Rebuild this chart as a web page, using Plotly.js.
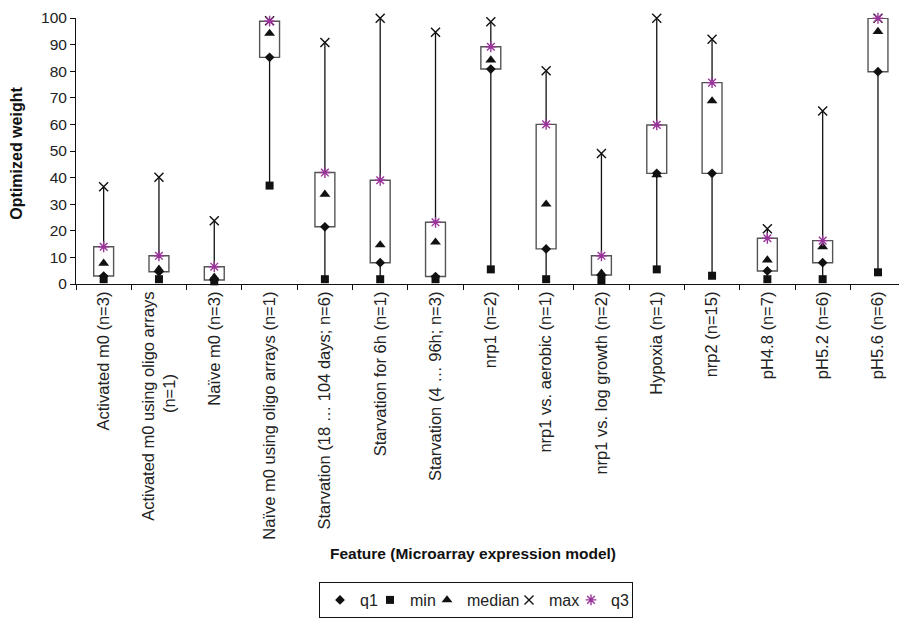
<!DOCTYPE html>
<html>
<head>
<meta charset="utf-8">
<script src="https://cdn.plot.ly/plotly-3.0.1.min.js"></script>
<style>html,body{margin:0;padding:0;background:#fff;}#chart{width:899px;height:620px;}</style>
</head>
<body>
<div id="chart"></div>
<script>
// ---- data ----
const categories = [
  "Activated m0 (n=3)",
  "Activated m0 using oligo arrays (n=1)",
  "Naïve m0 (n=3)",
  "Naïve m0 using oligo arrays (n=1)",
  "Starvation (18 … 104 days; n=6)",
  "Starvation for 6h (n=1)",
  "Starvation (4 … 96h; n=3)",
  "nrp1 (n=2)",
  "nrp1 vs. aerobic (n=1)",
  "nrp1 vs. log growth (n=2)",
  "Hypoxia (n=1)",
  "nrp2 (n=15)",
  "pH4.8 (n=7)",
  "pH5.2 (n=6)",
  "pH5.6 (n=6)"
];
const PAD = "\u00A0";
const tickLabels = [
  "Activated m0 (n=3)",
  "Activated m0 using oligo arrays<br>(n=1)" + PAD.repeat(18) + "\u200B",
  "Naïve m0 (n=3)",
  "Naïve m0 using oligo arrays (n=1)",
  "Starvation (18 … 104 days; n=6)",
  "Starvation for 6h (n=1)",
  "Starvation (4 … 96h; n=3)",
  "nrp1 (n=2)",
  "nrp1 vs. aerobic (n=1)",
  "nrp1 vs. log growth (n=2)",
  "Hypoxia (n=1)",
  "nrp2 (n=15)",
  "pH4.8 (n=7)",
  "pH5.2 (n=6)",
  "pH5.6 (n=6)"
];
const q1     = [3.0, 4.6, 1.5, 85.2, 21.5, 8.0, 2.8, 80.8, 13.2, 3.4, 41.6, 41.6, 4.9, 8.0, 79.8];
const minV   = [1.8, 1.8, 1.0, 37.0, 1.8, 1.8, 1.8, 5.5, 1.8, 1.5, 5.5, 3.1, 1.8, 1.8, 4.4];
const median = [7.8, 5.5, 2.5, 94.2, 33.7, 14.7, 15.7, 84.2, 30.0, 4.0, 41.0, 68.8, 9.0, 14.0, 94.9];
const maxV   = [36.6, 40.1, 23.8, 99.0, 90.8, 99.9, 94.6, 98.6, 80.2, 49.1, 99.9, 92.0, 20.8, 65.0, 99.9];
const q3     = [14.0, 10.6, 6.5, 98.8, 41.9, 39.0, 23.2, 89.2, 60.0, 10.6, 59.8, 75.7, 17.2, 16.3, 99.9];

// ---- build traces ----
const FONT = "Liberation Sans, Arial, sans-serif";
const wx = [], wy = [];
categories.forEach((c, i) => {
  wx.push(c, c, null, c, c, null);
  wy.push(q3[i], maxV[i], null, minV[i], q1[i], null);
});

const boxTrace = {
  type: "bar", x: categories, base: q1,
  y: q1.map((v, i) => q3[i] - v),
  width: 0.36,
  marker: {color: "#ffffff", line: {color: "#555555", width: 1.4}},
  showlegend: false, hoverinfo: "skip"
};
const whiskers = {
  type: "scatter", mode: "lines", x: wx, y: wy,
  line: {color: "#111111", width: 1.3},
  showlegend: false, hoverinfo: "skip", cliponaxis: false
};
function mk(name, y, symbol, size, color, lw, legw) {
  return {
    type: "scatter", mode: "markers", name: name, x: categories, y: y,
    cliponaxis: false, legendwidth: legw,
    marker: {symbol: symbol, size: size, color: color,
             line: {color: color, width: lw}}
  };
}
const traces = [
  boxTrace, whiskers,
  mk("q1", q1, "diamond", 7.5, "#111111", 0, 5),
  mk("min", minV, "square", 8, "#111111", 0, 12),
  mk("median", median, "triangle-up", 9.5, "#111111", 0, 37),
  mk("max", maxV, "x-thin", 9, "#111111", 1.4, 17),
  mk("q3", q3, "asterisk", 9, "#993399", 1.4, 16)
];

const W = 823, plotTop = 18, plotBottom = 284, H = plotBottom - plotTop;
const layout = {
  width: 899, height: 620,
  margin: {l: 76, r: 0, t: plotTop, b: 620 - plotBottom, autoexpand: false},
  paper_bgcolor: "#ffffff", plot_bgcolor: "#ffffff",
  font: {family: FONT, color: "#222222", size: 15},
  showlegend: true,
  barmode: "overlay",
  xaxis: {
    type: "category",
    range: [-0.5, 14.38],
    tickvals: categories, ticktext: tickLabels,
    tickangle: -90,
    tickfont: {size: 16.5, family: FONT, color: "#222222"},
    ticks: "outside", ticklen: 5, tickcolor: "#111", tickson: "boundaries",
    showline: true, linecolor: "#111", linewidth: 1,
    showgrid: false, zeroline: false, fixedrange: true, automargin: false
  },
  yaxis: {
    range: [0, 100], tickmode: "linear", tick0: 0, dtick: 10,
    tickfont: {size: 15.5, family: FONT, color: "#222222"},
    ticks: "outside", ticklen: 5, tickcolor: "#111",
    showline: true, linecolor: "#111", linewidth: 1,
    showgrid: false, zeroline: false, fixedrange: true, automargin: false
  },
  legend: {
    orientation: "h",
    x: (476 - 76) / W, xanchor: "center",
    y: (plotBottom - 600) / H, yanchor: "middle",
    bordercolor: "#111", borderwidth: 1, bgcolor: "#fff",
    font: {size: 16, family: FONT, color: "#222"},
    itemwidth: 30, tracegroupgap: 0
  },
  annotations: [
    {text: "<b>Optimized weight</b>", xref: "paper", yref: "paper",
     x: (17 - 76) / W, y: 0.49, xanchor: "center", yanchor: "middle",
     textangle: -90, showarrow: false, font: {size: 16, family: FONT, color: "#111"}},
    {text: "<b>Feature (Microarray expression model)</b>", xref: "paper", yref: "paper",
     x: (473 - 76) / W, y: (plotBottom - 553) / H, xanchor: "center", yanchor: "middle",
     showarrow: false, font: {size: 15.5, family: FONT, color: "#111"}}
  ]
};

Plotly.newPlot("chart", traces, layout, {displayModeBar: false, staticPlot: true});
</script>
</body>
</html>
